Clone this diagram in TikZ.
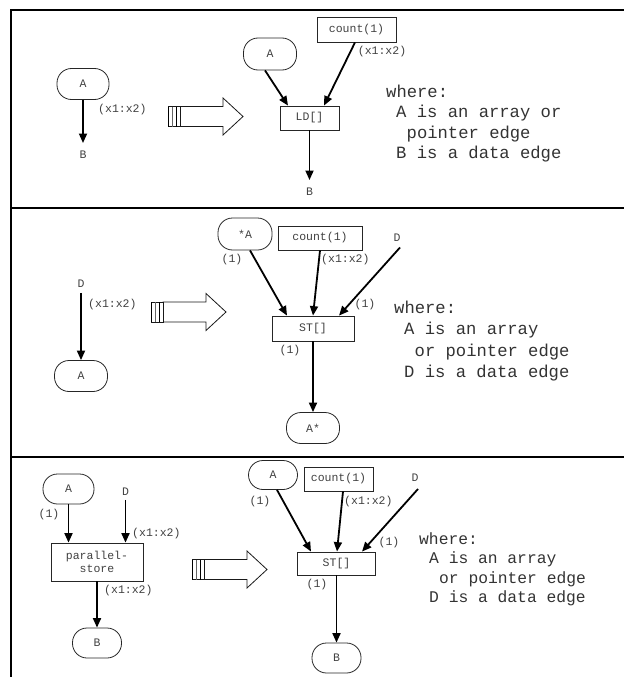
\documentclass[tikz,border=0pt]{standalone}
\usepackage{fontspec}
\newfontfamily\cour{Liberation Mono}
\usetikzlibrary{arrows.meta,calc}

\tikzset{
  small/.style={font=\cour\fontsize{11.5}{13}\selectfont},
  pill/.style={small, draw=black!85, line width=0.8pt, rounded corners=14.5pt,
    minimum width=52pt, minimum height=31pt, inner sep=0pt, text=black!75},
  opbox/.style={small, draw=black!85, line width=0.8pt, rectangle, inner sep=0pt, text=black!75},
  tag/.style={small, text=black!75, inner sep=1pt},
  flow/.style={line width=1.8pt, -{Triangle[length=9.5pt,width=8pt]}},
  note/.style={font=\cour\fontsize{17.2}{20}\selectfont, text=black!80, anchor=base west, inner sep=0pt},
  notesm/.style={note, font=\cour\fontsize{16.3}{19}\selectfont},
  frame/.style={line width=2pt},
  bigarrow/.style={draw=black!90, line width=0.8pt, fill=white},
}

% hollow striped "transforms into" arrow: #1 = left x, #2 = centre y
\newcommand{\hollowarrow}[2]{%
  \draw[bigarrow] (#1+12,#2-10) -- (#1+55,#2-10) -- (#1+55,#2-18.5) -- (#1+75,#2)
    -- (#1+55,#2+18.5) -- (#1+55,#2+10) -- (#1+12,#2+10) -- cycle;
  \draw[bigarrow] (#1,#2-10) rectangle (#1+12,#2+10);
  \draw[line width=1.2pt] (#1+0.6,#2-10) -- (#1+0.6,#2+10);
  \draw[line width=0.8pt, black!60] (#1+4.5,#2-10) -- (#1+4.5,#2+10);
  \draw[line width=1.2pt] (#1+8.5,#2-10) -- (#1+8.5,#2+10);
}

\begin{document}
\begin{tikzpicture}[x=1pt,y=-1pt]
\useasboundingbox (0,0) rectangle (624,677);

% frame and panel dividers
\draw[frame] (11,677) -- (11,10) -- (624,10);
\draw[frame] (11,208) -- (624,208);
\draw[frame] (11,457) -- (624,457);

% ---------------- panel 1: load ----------------
\node[pill] (s1a) at (83,84) {A};
\node[tag] (s1b) at (83,155) {B};
\draw[flow, shorten >=7pt] (s1a.south) -- (s1b.north);
\node[tag, anchor=west] (s1l1) at (97,110) {(x1:x2)};

\hollowarrow{168}{116.5}

\node[pill, minimum width=53pt, minimum height=32pt] (s1ra) at (270,54) {A};
\node[opbox, minimum width=79pt, minimum height=25pt] (s1cnt) at (356.5,29.5) {count(1)};
\node[tag] (s1l2) at (382,52) {(x1:x2)};
\node[opbox, minimum width=59pt, minimum height=24pt] (s1ld) at (309.5,118) {LD[]};
\node[tag] (s1rb) at (309.5,192) {B};
\draw[flow] ($(s1ra.south)+(-5,0)$) -- ($(s1ld.north)+(-21.5,0)$);
\draw[flow] ($(s1cnt.south)+(-1.5,0)$) -- ($(s1ld.north)+(14.5,0)$);
\draw[flow, shorten >=7pt] (s1ld.south) -- (s1rb.north);

\node[note] (s1w1) at (386,97) {where:};
\node[note] (s1w2) at (396,117.5) {A is an array or};
\node[note] (s1w3) at (406.5,138) {pointer edge};
\node[note] (s1w4) at (396,158.5) {B is a data edge};

% ---------------- panel 2: store ----------------
\node[tag] (s2d) at (81,284) {D};
\node[pill, minimum width=53pt] (s2a) at (81,376) {A};
\draw[flow, shorten <=4pt] (s2d.south) -- (s2a.north);
\node[tag, anchor=west] (s2l1) at (87,305) {(x1:x2)};

\hollowarrow{151}{312}

\node[pill, minimum width=54pt, minimum height=32pt] (s2sa) at (245,234) {*A};
\node[tag] (s2l2) at (232,260) {(1)};
\node[opbox, minimum width=84pt, minimum height=24pt] (s2cnt) at (320,238) {count(1)};
\node[tag, anchor=west] (s2l3) at (320,260) {(x1:x2)};
\node[tag] (s2d2) at (397,238) {D};
\node[opbox, minimum width=82pt, minimum height=25pt] (s2st) at (313,328.5) {ST[]};
\node[tag] (s2l4) at (365,305) {(1)};
\node[tag] (s2l5) at (290,351) {(1)};
\draw[flow] ($(s2sa.south)+(5,0)$) -- ($(s2st.north)+(-26,0)$);
\draw[flow] (s2cnt.south) -- (s2st.north);
\draw[flow] ($(s2d2.south)+(3,4.5)$) -- ($(s2st.north)+(26,0)$);
\node[pill, minimum width=53pt] (s2as) at (313,428) {A*};
\draw[flow] (s2st.south) -- (s2as.north);

\node[note] (s2w1) at (394,313) {where:};
\node[note] (s2w2) at (404,334.5) {A is an array};
\node[note] (s2w3) at (414.5,356) {or pointer edge};
\node[note] (s2w4) at (404,377) {D is a data edge};

% ---------------- panel 3: parallel store ----------------
\node[pill, minimum width=51pt, minimum height=30pt] (s3a) at (68.5,489) {A};
\node[tag] (s3l1) at (49,515) {(1)};
\node[tag] (s3d) at (125.5,492) {D};
\node[opbox, minimum width=92pt, minimum height=38pt, align=center] (s3ps) at (97,562) {parallel-\\store};
\draw[flow] (s3a.south) -- (s3a.south |- s3ps.north);
\draw[flow, shorten <=3pt] (s3d.south) -- (s3d.south |- s3ps.north);
\node[tag, anchor=west] (s3l2) at (131,534) {(x1:x2)};
\node[pill, minimum width=49pt, minimum height=30pt] (s3b) at (97,643) {B};
\draw[flow] (s3ps.south) -- (s3b.north);
\node[tag, anchor=west] (s3l3) at (103,591) {(x1:x2)};

\hollowarrow{192}{569.5}

\node[pill, minimum width=49pt, minimum height=29pt] (s3ra) at (273,475) {A};
\node[tag] (s3l4) at (260,502) {(1)};
\node[opbox, minimum width=69pt, minimum height=24pt] (s3cnt) at (338.5,479) {count(1)};
\node[tag, anchor=west] (s3l5) at (343,502) {(x1:x2)};
\node[tag] (s3d2) at (415,478) {D};
\node[opbox, minimum width=78pt, minimum height=23pt] (s3st) at (336.5,563.5) {ST[]};
\node[tag] (s3l6) at (389,543) {(1)};
\node[tag] (s3l7) at (317,585) {(1)};
\draw[flow] ($(s3ra.south)+(4,0)$) -- ($(s3st.north)+(-25.5,0)$);
\draw[flow] ($(s3cnt.south)+(4.5,0)$) -- ($(s3st.north)+(0.5,0)$);
\draw[flow] ($(s3d2.south)+(3,6)$) -- ($(s3st.north)+(25.5,0)$);
\node[pill, minimum width=49pt, minimum height=30pt] (s3b2) at (336.5,658) {B};
\draw[flow] (s3st.south) -- (s3b2.north);

\node[notesm] (s3w1) at (419,544) {where:};
\node[notesm] (s3w2) at (429,563.5) {A is an array};
\node[notesm] (s3w3) at (439,583) {or pointer edge};
\node[notesm] (s3w4) at (429,602) {D is a data edge};
\end{tikzpicture}
\end{document}
